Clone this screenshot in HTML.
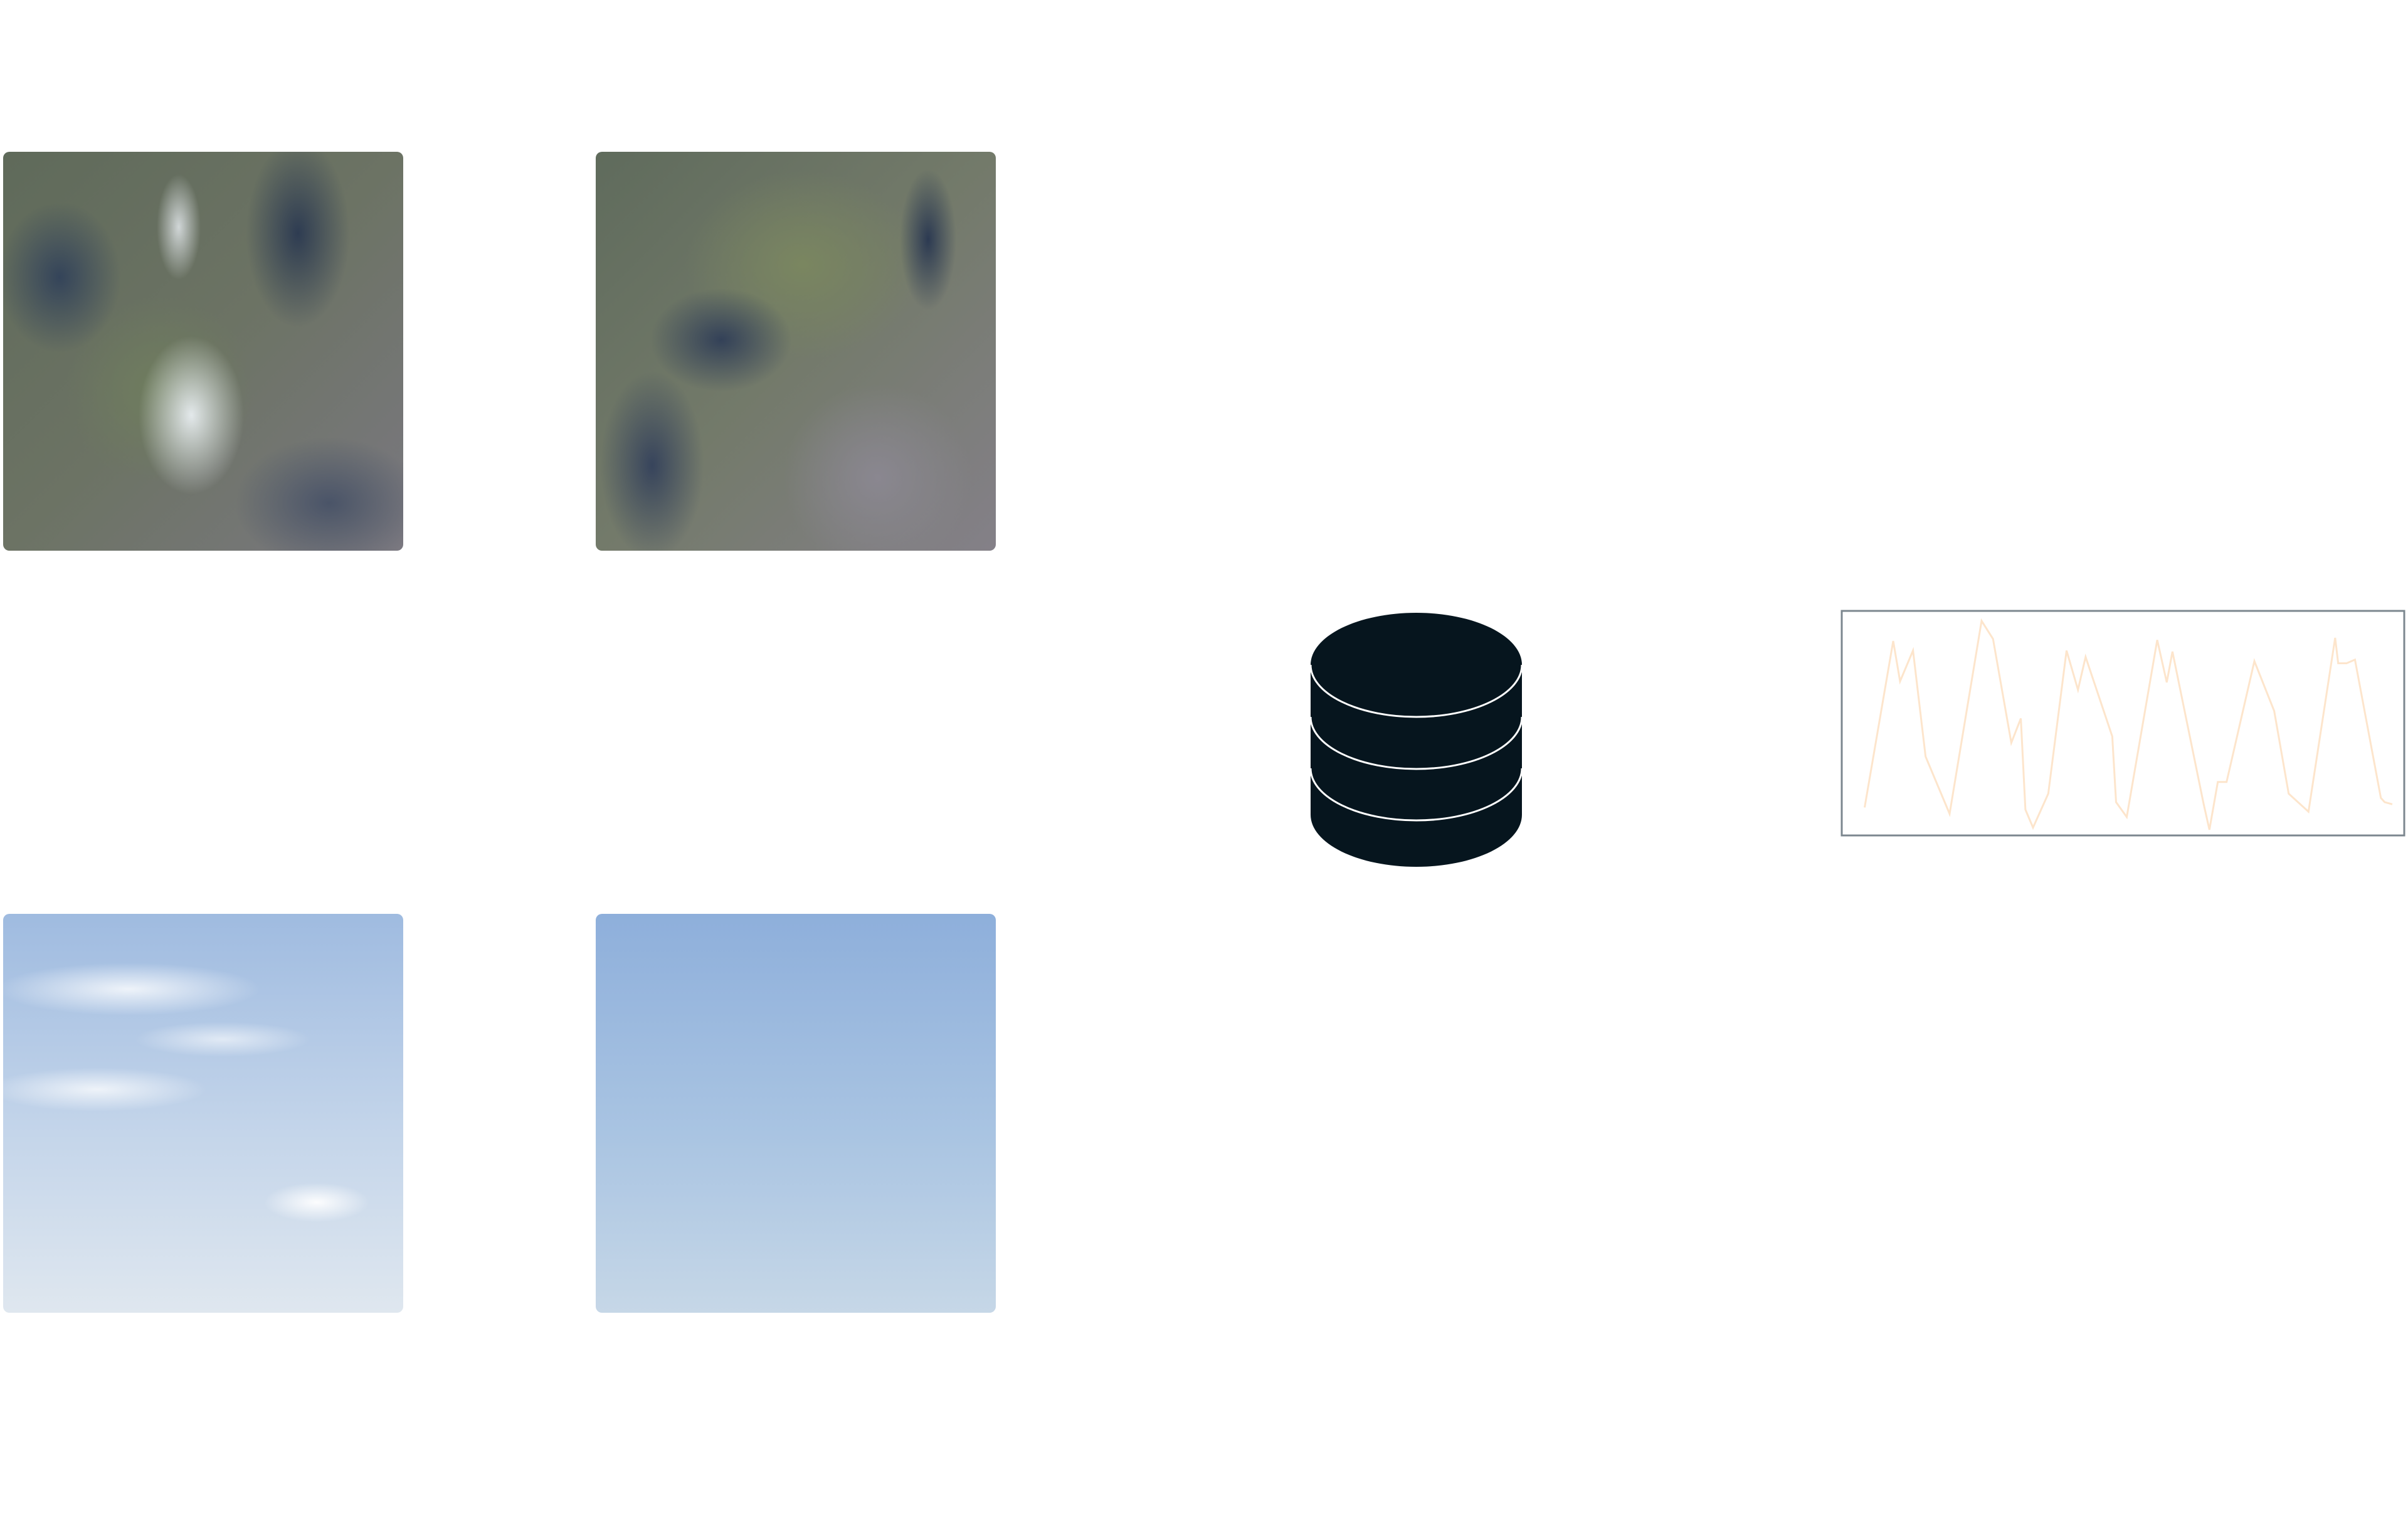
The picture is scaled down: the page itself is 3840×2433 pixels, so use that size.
<!DOCTYPE html>
<html><head><style>
html,body{margin:0;padding:0;background:#fff;width:3840px;height:2433px;overflow:hidden;position:relative}
.t{position:absolute;border-radius:10px;overflow:hidden}
</style></head><body>
<!-- terrain 1 -->
<div class="t" style="left:5px;top:242px;width:638px;height:636px;background:
radial-gradient(ellipse 120px 180px at 300px 420px,rgba(240,245,250,.9),rgba(240,245,250,0) 70%),
radial-gradient(ellipse 90px 60px at 100px 780px,rgba(240,245,250,.85),rgba(240,245,250,0) 70%),
radial-gradient(ellipse 50px 120px at 280px 120px,rgba(235,240,245,.8),rgba(235,240,245,0) 70%),
radial-gradient(ellipse 110px 200px at 470px 130px,#2e3c52,rgba(46,60,82,0) 75%),
radial-gradient(ellipse 130px 160px at 90px 200px,#34445a,rgba(52,68,90,0) 75%),
radial-gradient(ellipse 200px 140px at 520px 560px,#4a5468,rgba(74,84,104,0) 75%),
radial-gradient(ellipse 200px 200px at 250px 380px,#6f7d5e,rgba(111,125,94,0) 75%),
linear-gradient(135deg,#5f6a5a,#6c7364 50%,#7a7880)"></div>
<!-- terrain 2 -->
<div class="t" style="left:950px;top:242px;width:638px;height:636px;background:
radial-gradient(ellipse 110px 200px at 90px 500px,#37445c,rgba(55,68,92,0) 75%),
radial-gradient(ellipse 60px 150px at 530px 140px,#2c3a52,rgba(44,58,82,0) 75%),
radial-gradient(ellipse 150px 110px at 200px 300px,#334158,rgba(51,65,88,0) 75%),
radial-gradient(ellipse 250px 200px at 330px 180px,#7a8660,rgba(122,134,96,0) 75%),
radial-gradient(ellipse 200px 200px at 450px 520px,#8a8790,rgba(138,135,144,0) 75%),
linear-gradient(135deg,#5f6b5c,#737a6a 50%,#848088)"></div>
<!-- sky 1 -->
<div class="t" style="left:5px;top:1457px;width:638px;height:636px;background:
radial-gradient(ellipse 120px 45px at 500px 460px,rgba(255,255,255,.95),rgba(255,255,255,0) 70%),
radial-gradient(ellipse 300px 60px at 200px 120px,rgba(255,255,255,.8),rgba(255,255,255,0) 70%),
radial-gradient(ellipse 250px 50px at 150px 280px,rgba(255,255,255,.75),rgba(255,255,255,0) 70%),
radial-gradient(ellipse 200px 40px at 350px 200px,rgba(255,255,255,.6),rgba(255,255,255,0) 70%),
linear-gradient(180deg,#9fbbe0,#c4d5ea 55%,#dfe7ef)"></div>
<!-- sky 2 -->
<div class="t" style="left:950px;top:1457px;width:638px;height:636px;background:linear-gradient(180deg,#8eafdb,#a9c4e2 55%,#c6d7e7)"></div>
<!-- database -->
<svg style="position:absolute;left:0;top:0" width="3840" height="2433">
<path d="M2090 1060 A168.5 83 0 0 1 2427 1060 L2427 1299 A168.5 83 0 0 1 2090 1299 Z" fill="#06151e"/>
<path d="M2090 1060 A168.5 83 0 0 0 2427 1060" fill="none" stroke="#fff" stroke-width="3"/>
<path d="M2090 1143 A168.5 83 0 0 0 2427 1143" fill="none" stroke="#fff" stroke-width="3"/>
<path d="M2090 1225 A168.5 83 0 0 0 2427 1225" fill="none" stroke="#fff" stroke-width="3"/>
<rect x="2937" y="974" width="897" height="358" fill="#fff" stroke="#7c878f" stroke-width="3"/>
</svg>
<svg style="position:absolute;left:2934px;top:972px" width="901" height="361" viewBox="10 42 1483 1068" preserveAspectRatio="none">
<polyline fill="none" stroke="#fde5cc" stroke-width="3" vector-effect="non-scaling-stroke" points="75,975 150,190 168,380 202,235 235,735 298,1005 382,95 412,180 460,670 485,555 497,985 517,1070 557,910 605,235 635,420 655,265 725,640 735,950 763,1020 843,185 868,385 883,240 965,960 980,1080 1002,855 1025,855 1098,285 1150,520 1188,910 1240,995 1310,175 1318,295 1340,295 1362,278 1430,930 1440,950 1460,960"/>
</svg>
</body></html>
